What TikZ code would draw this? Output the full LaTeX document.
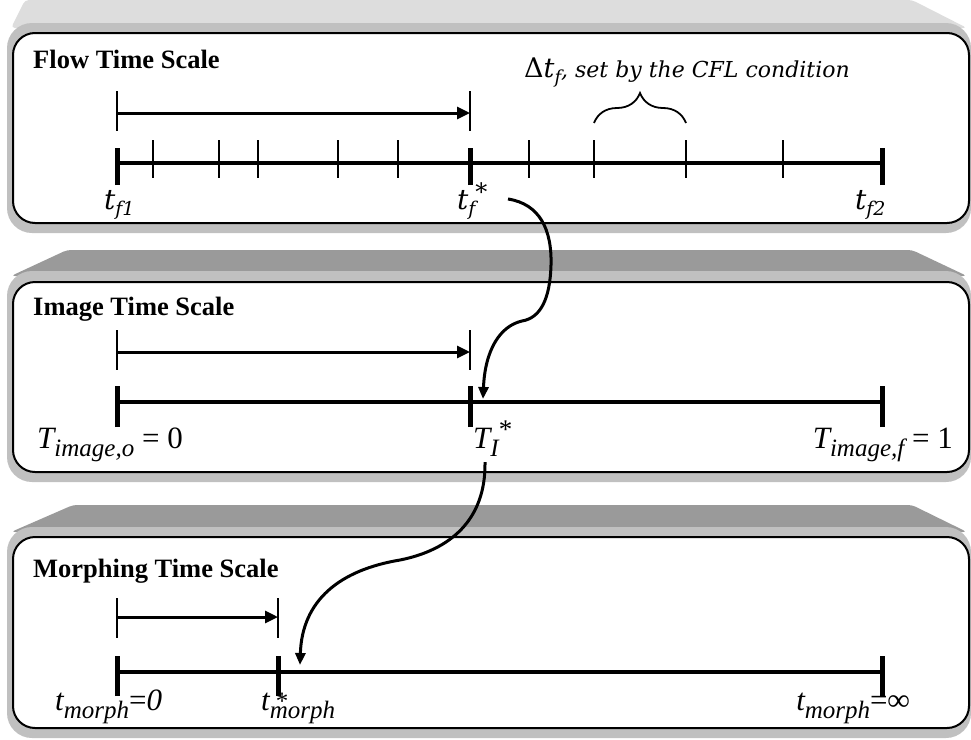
\documentclass[tikz,border=0pt]{standalone}
\usepackage{fontspec}
\setmainfont{Liberation Serif}
\newfontfamily\camfont{DejaVu Serif}
\newfontfamily\timfont{Liberation Serif}
\usetikzlibrary{arrows.meta,decorations.pathreplacing}
\definecolor{toplight}{HTML}{DDDDDD}
\definecolor{topdark}{HTML}{9A9A9A}
\definecolor{rimgray}{HTML}{C0C0C0}
\newcommand\panelbox[6]{%
  \fill[#6,rounded corners=4pt] (#2,#1) -- (912,#1) -- (967,#3+5) -- (11,#3+5) -- cycle;
  \fill[rimgray,rounded corners=25pt] (7,#3) rectangle (971,#5+10);
  \draw[line width=2pt,fill=white,rounded corners=22pt] (13,#4) rectangle (969,#5);
}
% top-panel labels (Cambria-like)
\newcommand\csub[1]{\raisebox{-6.5pt}{\fontsize{19}{20}\selectfont #1}}
\newcommand\cstar{\raisebox{9pt}{\fontsize{24}{24}\selectfont\upshape *}}
% lower labels (Times-like)
\newcommand\tsub[1]{\raisebox{-8pt}{\fontsize{25}{26}\selectfont #1}}
\newcommand\tstar{\raisebox{10pt}{\fontsize{27}{27}\selectfont\upshape *}}
\begin{document}
\begin{tikzpicture}[x=1pt,y=-1pt,
  axis/.style={line width=4.5pt},
  bigtick/.style={line width=5pt},
  smalltick/.style={line width=1.8pt},
  endtick/.style={line width=2.6pt},
  span/.style={line width=3pt,-{Triangle[length=13pt,width=12pt]}},
  link/.style={line width=3pt,-{Triangle[length=12pt,width=10pt]}},
  title/.style={anchor=base west,inner sep=0pt,font=\bfseries\fontsize{26.5}{30}\selectfont},
  clab/.style={inner sep=0pt,font=\camfont\itshape\fontsize{28}{30}\selectfont},
  tlab/.style={inner sep=0pt,font=\timfont\itshape\fontsize{31}{33}\selectfont}]
\useasboundingbox (0,0) rectangle (971,739);
\fill[white] (0,0) rectangle (971,739);

% panels
\panelbox{0}{25}{23}{33}{223}{toplight}
\panelbox{250}{67}{271}{282}{472}{topdark}
\panelbox{505}{73}{527}{537}{728}{topdark}

% ---------- Flow time scale ----------
\node[title] (ftitle) at (33,68) {Flow Time Scale};
\coordinate (fa) at (117,163);
\coordinate (fs) at (470,163);
\coordinate (fb) at (882,163);
\foreach \x in {153,219,258,338,398,529,594,686,783}
  \draw[smalltick] (\x,140) -- (\x,178);
\draw[axis] (fa) -- (fb);
\foreach \p in {fa,fs,fb}
  \draw[bigtick] ([yshift=-22pt]\p) -- ([yshift=15pt]\p);
\coordinate (fra) at (117,113);
\coordinate (frb) at (470,113);
\draw[endtick] (117,91) -- (117,131);
\draw[endtick] (470,91) -- (470,131);
\draw[span] (fra) -- (frb);
\draw[line width=1.8pt,decorate,decoration={brace,amplitude=30pt}] (594,123) -- (686,123);
\node[anchor=base west,inner sep=0pt,font=\camfont] (dtf) at (524,77)
  {\fontsize{27}{30}\selectfont\upshape\char"0394\itshape t\raisebox{-6pt}{\fontsize{18}{20}\selectfont f}\fontsize{22}{26}\selectfont, set by the CFL condition};
\node[clab,anchor=base west] (tf1) at (104,209) {t\csub{f1}};
\node[clab,anchor=base west] (tfs) at (457,209) {t\csub{f}\cstar};
\node[clab,anchor=base west] (tf2) at (855,209) {t\csub{f2}};

% ---------- Image time scale ----------
\node[title] (ititle) at (33,315) {Image Time Scale};
\coordinate (ia) at (117,402);
\coordinate (is) at (470,402);
\coordinate (ib) at (882,402);
\draw[axis] (ia) -- (ib);
\foreach \p in {ia,is,ib}
  \draw[bigtick] ([yshift=-25pt]\p) -- ([yshift=16pt]\p);
\coordinate (ira) at (117,352);
\coordinate (irb) at (470,352);
\draw[endtick] (117,330) -- (117,370);
\draw[endtick] (470,330) -- (470,370);
\draw[span] (ira) -- (irb);
\node[tlab,anchor=base west] (ti0) at (37,448) {T\tsub{image,o}\upshape\ = 0};
\node[tlab,anchor=base west] (tis) at (473,448) {T\tsub{I}\tstar};
\node[tlab,anchor=base east] (ti1) at (953,448) {T\tsub{image,f}\upshape\ = 1};

% ---------- Morphing time scale ----------
\node[title] (mtitle) at (33,577) {Morphing Time Scale};
\coordinate (ma) at (117,672);
\coordinate (ms) at (278,672);
\coordinate (mb) at (882,672);
\draw[axis] (ma) -- (mb);
\foreach \p in {ma,ms,mb}
  \draw[bigtick] ([yshift=-24pt]\p) -- ([yshift=16pt]\p);
\coordinate (mra) at (117,617);
\coordinate (mrb) at (278,617);
\draw[endtick] (117,598) -- (117,638);
\draw[endtick] (278,598) -- (278,638);
\draw[span] (mra) -- (mrb);
\node[tlab,anchor=base west] (tm0) at (55,710) {t\tsub{morph}{\upshape =}0};
\node[tlab,anchor=base west] (tms) at (261,710)
  {t\makebox[0pt][l]{\hspace{6pt}\raisebox{1pt}{\fontsize{25}{25}\selectfont\upshape *}}\tsub{morph}};
\node[tlab,anchor=base east] (tm1) at (910,710) {t\tsub{morph}{\upshape =}∞};

% ---------- links ----------
\coordinate (l1s) at (508,199);
\coordinate (l1e) at (483,399);
\draw[link] (l1s) .. controls (540,204) and (552,230) .. (551,265)
  .. controls (550,300) and (540,318) .. (522,321)
  .. controls (500,326) and (485,350) .. (l1e);
\coordinate (l2s) at (485,462);
\coordinate (l2e) at (300,665);
\draw[link] (l2s) .. controls (486,520) and (450,550) .. (400,560)
  .. controls (340,570) and (302,600) .. (l2e);
\end{tikzpicture}
\end{document}
